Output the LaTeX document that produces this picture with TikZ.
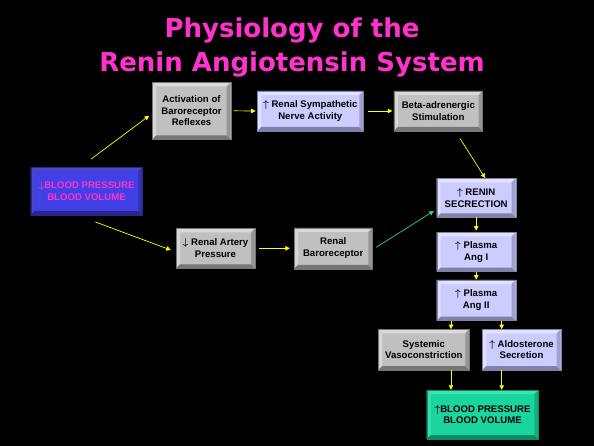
\documentclass[tikz,border=0pt]{standalone}
\usepackage{amsmath}
\usepackage{fontspec}
\setmainfont{Liberation Sans}
\newfontfamily\titlefont{DejaVu Sans}
\usepackage{tikz}
\usetikzlibrary{positioning,arrows.meta,calc}

\newcommand{\upar}{$\boldsymbol{\uparrow}$}
\newcommand{\downar}{$\boldsymbol{\downarrow}$}

\definecolor{titlepink}{RGB}{255,51,204}
\definecolor{arrowyellow}{RGB}{255,255,0}
\definecolor{arrowteal}{RGB}{51,204,153}
% face / light / dark tones of the bevelled boxes
\definecolor{bxgreyFace}{RGB}{192,192,192}
\definecolor{bxgreyLight}{RGB}{218,218,218}
\definecolor{bxgreyMid}{RGB}{150,150,150}
\definecolor{bxgreyDark}{RGB}{118,118,118}
\definecolor{bxlilacFace}{RGB}{204,204,255}
\definecolor{bxlilacLight}{RGB}{226,226,255}
\definecolor{bxlilacMid}{RGB}{160,160,204}
\definecolor{bxlilacDark}{RGB}{128,128,168}
\definecolor{bxblueFace}{RGB}{64,64,228}
\definecolor{bxblueLight}{RGB}{72,72,200}
\definecolor{bxblueMid}{RGB}{48,48,170}
\definecolor{bxblueDark}{RGB}{40,40,140}
\definecolor{bxgreenFace}{RGB}{26,214,158}
\definecolor{bxgreenLight}{RGB}{60,228,178}
\definecolor{bxgreenMid}{RGB}{16,176,128}
\definecolor{bxgreenDark}{RGB}{10,140,102}

\tikzset{
bevelnode/.style={rectangle, inner sep=0pt, align=center, fill=#1Face, draw=#1Dark, line width=0.4pt,
  font=\bfseries\fontsize{9.6}{11.7}\selectfont,
  path picture={
    \fill[#1Light] (path picture bounding box.north west) -- (path picture bounding box.north east)
      -- ([shift={(-4pt,-4pt)}]path picture bounding box.north east) -- ([shift={(4pt,-4pt)}]path picture bounding box.north west) -- cycle;
    \fill[#1Light!85!#1Face] (path picture bounding box.north west) -- (path picture bounding box.south west)
      -- ([shift={(4pt,4pt)}]path picture bounding box.south west) -- ([shift={(4pt,-4pt)}]path picture bounding box.north west) -- cycle;
    \fill[#1Dark] (path picture bounding box.south west) -- (path picture bounding box.south east)
      -- ([shift={(-4pt,4pt)}]path picture bounding box.south east) -- ([shift={(4pt,4pt)}]path picture bounding box.south west) -- cycle;
    \fill[#1Mid] (path picture bounding box.north east) -- (path picture bounding box.south east)
      -- ([shift={(-4pt,4pt)}]path picture bounding box.south east) -- ([shift={(-4pt,-4pt)}]path picture bounding box.north east) -- cycle;
  }},
greybox/.style={bevelnode=bxgrey},
lilacbox/.style={bevelnode=bxlilac},
titletext/.style={text=titlepink, font=\titlefont\bfseries\fontsize{26}{30}\selectfont, anchor=base, inner sep=0pt},
link/.style={draw=arrowyellow, line width=0.7pt, -{Triangle[width=4.5pt,length=4.5pt]}},
>={Triangle[width=4.5pt,length=4.5pt]}
}

\begin{document}
\begin{tikzpicture}[x=1pt, y=-1pt]
\fill[black] (0,0) rectangle (594,446);
\useasboundingbox (0,0) rectangle (594,446);

%Title
\node[titletext] (title1) at (292,38) {Physiology of the};
\node[titletext] (title2) at (292,72) {Renin Angiotensin System};

%Boxes
\node[bevelnode=bxblue, text=titlepink, minimum width=111.6, minimum height=47.7] (bp) at (86.5,191.2) {\downar BLOOD PRESSURE\\BLOOD VOLUME};
\node[greybox, minimum width=78.4, minimum height=57] (act) at (191.5,110.8) {Activation of\\Baroreceptor\\Reflexes};
\node[lilacbox, minimum width=106, minimum height=40] (symp) at (310.3,111) {\upar\ Renal Sympathetic\\Nerve Activity};
\node[greybox, minimum width=88.7, minimum height=40] (beta) at (438.3,111) {Beta-adrenergic\\Stimulation};
\node[lilacbox, minimum width=79, minimum height=39] (renin) at (476.2,197.8) {\upar\ RENIN\\SECRECTION};
\node[greybox, minimum width=79, minimum height=40] (artery) at (215.5,248.3) {\downar\ Renal Artery\\Pressure};
\node[greybox, minimum width=78.3, minimum height=41] (baro) at (333.2,248.3) {Renal\\Baroreceptor};
\node[lilacbox, minimum width=79, minimum height=39.4] (angi) at (476.2,252) {\upar\ Plasma\\Ang I};
\node[lilacbox, minimum width=79, minimum height=40.7] (angii) at (476.2,300.3) {\upar\ Plasma\\Ang II};
\node[greybox, minimum width=91, minimum height=40.7] (vaso) at (423.8,349.7) {Systemic\\Vasoconstriction};
\node[lilacbox, minimum width=78.4, minimum height=40.7] (aldo) at (521.5,349.7) {\upar\ Aldosterone\\Secretion};
\node[bevelnode=bxgreen, minimum width=111.6, minimum height=49] (bpup) at (482.5,414.5) {\upar BLOOD PRESSURE\\BLOOD VOLUME};

%Arrows
\draw[link] ([shift={(4.5,-8)}]bp.north) -- ([shift={(-3,5)}]act.west);
\draw[link, shorten <=2.6pt, shorten >=1.5pt] (act.east) -- (symp.west);
\draw[link, shorten <=4.7pt, shorten >=1.5pt] (symp.east) -- (beta.west);
\draw[link] ([shift={(21.7,7.3)}]beta.south) -- ([shift={(9,0)}]renin.north);
\draw[link] ([shift={(8.8,6.7)}]bp.south) -- ([shift={(-5,1.7)}]artery.west);
\draw[link, shorten <=3.3pt, shorten >=4pt] (artery.east) -- (baro.west);
\draw[link, draw=arrowteal] ([shift={(3.7,-1)}]baro.east) -- ([shift={(-2.7,13.2)}]renin.west);
\draw[link, shorten >=1.5pt] (renin.south) -- (angi.north);
\draw[link] (angi.south) -- (angii.north);
\draw[link] ([xshift=-25.2pt]angii.south) -- ([xshift=-25.2pt]angii.south |- vaso.north);
\draw[link] ([xshift=25.5pt]angii.south) -- ([xshift=25.5pt]angii.south |- aldo.north);
\draw[link] ([xshift=27.2pt]vaso.south) -- ([xshift=27.2pt]vaso.south |- bpup.north);
\draw[link] ([xshift=-19.8pt]aldo.south) -- ([xshift=-19.8pt]aldo.south |- bpup.north);

\end{tikzpicture}
\end{document}
